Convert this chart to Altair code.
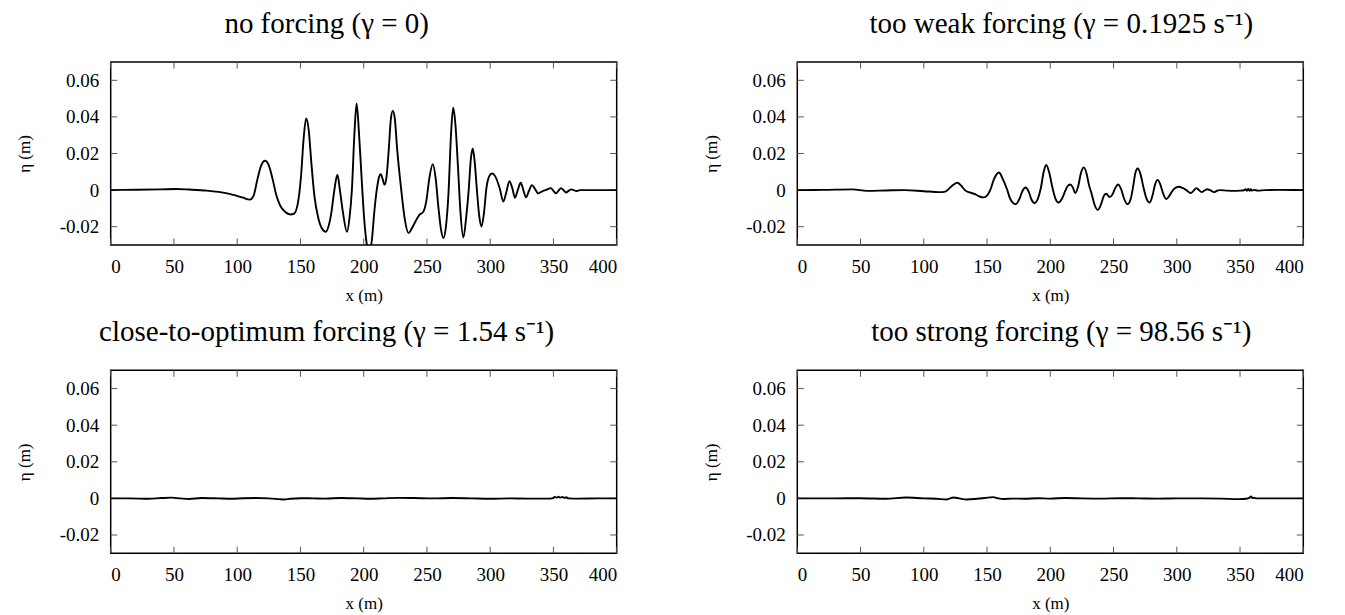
import altair as alt
import pandas as pd

x_ticks = [0, 50, 100, 150, 200, 250, 300, 350, 400]
y_ticks = [-0.02, 0.0, 0.02, 0.04, 0.06]

titles = [
    "no forcing (γ = 0)",
    "too weak forcing (γ = 0.1925 s⁻¹)",
    "close-to-optimum forcing (γ = 1.54 s⁻¹)",
    "too strong forcing (γ = 98.56 s⁻¹)",
]

# no forcing
tl_x = [0, 20, 40, 52, 62, 76, 92, 104, 110, 113, 116, 119, 122, 125, 128, 131, 134, 138, 142, 145, 148,
        150.5, 152.5, 154.5, 156.5, 158.5, 161, 164, 167, 170, 172.5, 174.5, 176.8, 179.2, 181.2, 183.6,
        186.8, 188.8, 190.7, 192.6, 194.4, 196.2, 198.1, 200.2, 202.3, 204.6, 206.5, 208.5, 210.4, 212.3,
        213.5, 215, 216.5, 218, 219.8, 221.5, 223, 224.6, 226.5, 229.7, 232.5, 235.5, 238, 241, 244, 247,
        249.5, 252, 254.6, 256.8, 259, 261, 263, 265, 267, 269, 270.7, 272.5, 274.5, 276.5, 278.8, 281,
        283, 284.7, 286.2, 287.8, 289.5, 291.3, 293.1, 295, 297, 299.2, 301.5, 304, 307.5, 310.4, 312.8,
        315.2, 317.5, 319.6, 321.8, 324.1, 326.2, 328.3, 330.6, 333, 335.5, 338, 341.5, 344.8, 348, 350,
        352, 354, 356, 358, 360, 362, 364, 366, 368, 371, 380, 400]
tl_y = [0.0, 0.0002, 0.0004, 0.0006, 0.0003, -0.0003, -0.0018, -0.0040, -0.0052, -0.0030, 0.0060, 0.0135,
        0.0160, 0.0135, 0.0060, -0.0030, -0.0085, -0.0120, -0.0133, -0.0128, -0.0070,
        0.0080, 0.0280, 0.0392, 0.0330, 0.0160, -0.0030, -0.0150, -0.0210, -0.0228, -0.0190, -0.0120,
        0.0000, 0.0084, 0.0000, -0.0122,
        -0.0228, -0.0150, 0.0005, 0.0300, 0.0473, 0.0320, 0.0096, -0.0140, -0.0290, -0.0345, -0.0270,
        -0.0110, 0.0005, 0.0075,
        0.0087, 0.0060, 0.0030, 0.0070, 0.0220, 0.0390, 0.0433, 0.0390, 0.0220, 0.0000, -0.0160, -0.0235,
        -0.0210, -0.0170, -0.0135, -0.0120,
        -0.0060, 0.0070, 0.0142, 0.0070, -0.0090, -0.0210, -0.0262, -0.0200, -0.0020, 0.0300, 0.0450,
        0.0360, 0.0130, -0.0120, -0.0259, -0.0150,
        0.0000, 0.0170, 0.0227, 0.0150, 0.0000, -0.0140, -0.0199, -0.0130, 0.0010, 0.0075, 0.0091, 0.0075,
        0.0010, -0.0062, -0.0010,
        0.0049, 0.0010, -0.0042, 0.0000, 0.0040, 0.0000, -0.0040, -0.0005, 0.0027, 0.0005, -0.0018,
        -0.0005, 0.0003, 0.0011, -0.0004,
        -0.0018, -0.0003, 0.0011, -0.0001, -0.0013, -0.0004, 0.0004, 0.0000, -0.0005, 0.0000, 0.0000, 0.0000]

# too weak forcing
tr_x = [0, 20, 44, 55, 70, 85, 100, 112.6, 117, 120, 123.5, 126.6, 129.5, 132.5, 136.3, 140.5, 144, 147.4,
        150, 152.5, 155.5, 159.4, 162.5, 165.5, 168.5, 172.6, 175.5, 178, 180.5, 183, 185, 187.6, 190,
        192.5, 194.8, 196.8, 199, 201.5, 204, 206.5, 209, 211.5, 213.5, 215.8, 217.8, 219.7, 222, 224.3,
        226.5, 228.7, 230.5, 232.4, 235, 237.6, 240, 242.5, 244.3, 246.8, 249, 251.3, 253.6, 256, 258.5,
        261, 263.5, 265.5, 267.3, 269.1, 271.2, 273.5, 276, 278.6, 280.8, 282.8, 284.9, 287, 289.3, 291.7,
        294.2, 297, 299.3, 301.7, 304.5, 307.5, 311, 313.3, 315.4, 317.5, 319.6, 322, 324.1, 326.8, 329.4,
        332, 334, 340, 345, 350, 353, 354.5, 355.5, 356.5, 357.5, 358.5, 359.5, 361, 364, 370, 380, 400]
tr_y = [0.0, 0.0001, 0.0004, -0.0004, -0.0002, 0.0000, -0.0006, -0.0011, -0.0008, 0.0008, 0.0030, 0.0040,
        0.0025, 0.0000, -0.0013, -0.0022, -0.0035, -0.0040,
        -0.0030, 0.0000, 0.0060, 0.0096, 0.0060, 0.0010, -0.0050, -0.0077, -0.0050, -0.0005, 0.0014,
        -0.0010, -0.0050, -0.0071, -0.0050,
        0.0010, 0.0100, 0.0137, 0.0100, 0.0020, -0.0045, -0.0068, -0.0050, -0.0010, 0.0020, 0.0031,
        0.0015, -0.0016, 0.0020, 0.0095,
        0.0124, 0.0090, 0.0030, -0.0013, -0.0080, -0.0108, -0.0080, -0.0030, -0.0020, -0.0038, -0.0025,
        0.0010, 0.0031, 0.0005, -0.0050,
        -0.0077, -0.0050, 0.0020, 0.0095, 0.0118, 0.0090, 0.0020, -0.0045, -0.0068, -0.0030, 0.0030,
        0.0056, 0.0030, -0.0020, -0.0049,
        -0.0030, 0.0000, 0.0014, 0.0018, 0.0012, 0.0000, -0.0016, -0.0003, 0.0011, 0.0000, -0.0011,
        -0.0002, 0.0005, -0.0002, -0.0011,
        -0.0003, 0.0000, -0.0003, -0.0004, -0.0003, -0.0001, 0.0005, -0.0004, 0.0006, -0.0004, 0.0005,
        -0.0003, 0.0001, -0.0003, 0.0000, 0.0001, 0.0000]

# close-to-optimum forcing
bl_x = [0, 15, 30, 40, 48, 55, 62, 72, 85, 95, 105, 115, 125, 133, 137, 142, 150, 160, 170, 182, 195, 205,
        215, 228, 240, 255, 270, 285, 300, 315, 330, 345, 349, 351, 352.5, 354, 355.5, 357, 358.5, 360,
        362, 370, 385, 400]
bl_y = [0.0, 0.0, -0.0002, 0.0002, 0.0004, 0.0, -0.0003, 0.0002, 0.0, -0.0002, 0.0001, 0.0002, 0.0,
        -0.0004, -0.0006, -0.0002, 0.0001, 0.0, -0.0001, 0.0002, 0.0, -0.0002, 0.0, 0.0003, 0.0002, 0.0,
        0.0002, 0.0, -0.0002, 0.0, -0.0001, -0.0001, 0.0, 0.0008, 0.0004, 0.0009, 0.0004, 0.0008, 0.0003,
        0.0006, 0.0, -0.0001, 0.0, 0.0]

# too strong forcing
br_x = [0, 30, 50, 70, 86, 100, 110, 118, 123.5, 128, 134, 142, 148, 154.7, 159, 163, 170, 180, 190, 200,
        212, 225, 240, 255, 270, 285, 300, 320, 335, 349, 355, 357.5, 358.6, 359.8, 361, 363, 375, 400]
br_y = [0.0, 0.0, 0.0001, -0.0002, 0.0005, 0.0, -0.0002, -0.0006, 0.0005, 0.0, -0.0006, -0.0002, 0.0002,
        0.0007, 0.0, -0.0003, -0.0001, -0.0002, 0.0001, -0.0001, 0.0002, 0.0, -0.0001, 0.0001, 0.0,
        -0.0001, 0.0, 0.0, -0.0001, -0.0004, -0.0002, 0.0004, 0.0011, 0.0002, 0.0004, 0.0, 0.0, 0.0]

W, H = 506, 183
FONT = "Liberation Serif"
TICK = 6.5

xsc = alt.Scale(domain=[0, 400], nice=False, zero=False)
ysc = alt.Scale(domain=[-0.03, 0.07], nice=False, zero=False)

ylabel_expr = ("datum.value < 0 ? '-' + format(-datum.value, '.2f') : "
               "(datum.value == 0 ? '0' : format(datum.value, '.2f'))")


def panel(xs, ys, title, dx):
    df = pd.DataFrame({"x": xs, "y": ys})
    xt = pd.DataFrame({"x": x_ticks})
    yt = pd.DataFrame({"y": y_ticks})
    line = alt.Chart(df).mark_line(
        color="black", strokeWidth=1.9, interpolate="monotone", clip=True
    ).encode(
        x=alt.X("x:Q", scale=xsc, axis=alt.Axis(
            values=x_ticks, ticks=False, tickSize=0, domain=False, grid=False,
            labelFont=FONT, labelFontSize=19, labelColor="black", labelPadding=12,
            title="x (m)", titleFont=FONT, titleFontSize=17, titleFontWeight="normal",
            titleColor="black", titleY=55, titleBaseline="alphabetic")),
        y=alt.Y("y:Q", scale=ysc, axis=alt.Axis(
            values=y_ticks, ticks=False, tickSize=0, domain=False, grid=False,
            labelExpr=ylabel_expr, labelFont=FONT, labelFontSize=19, labelColor="black",
            labelPadding=12, labelBaseline="middle",
            title="η (m)", titleFont=FONT, titleFontSize=17, titleFontWeight="normal",
            titleColor="black", titleX=-86, titleY=H / 2, titleAngle=270,
            titleBaseline="middle", titleAlign="center")),
    )
    tick_style = dict(color="#555555", strokeWidth=1)
    xb = alt.Chart(xt).mark_rule(**tick_style).encode(
        x=alt.X("x:Q", scale=xsc), y=alt.value(H), y2=alt.value(H - TICK))
    xtp = alt.Chart(xt).mark_rule(**tick_style).encode(
        x=alt.X("x:Q", scale=xsc), y=alt.value(0), y2=alt.value(TICK))
    yl = alt.Chart(yt).mark_rule(**tick_style).encode(
        y=alt.Y("y:Q", scale=ysc), x=alt.value(0), x2=alt.value(TICK))
    yr = alt.Chart(yt).mark_rule(**tick_style).encode(
        y=alt.Y("y:Q", scale=ysc), x=alt.value(W), x2=alt.value(W - TICK))
    return alt.layer(xb, xtp, yl, yr, line).properties(
        width=W, height=H,
        title=alt.TitleParams(text=title, font=FONT, fontSize=29, fontWeight="normal",
                              color="black", anchor="middle", offset=0, dx=dx,
                              baseline="alphabetic"),
    )


p1 = panel(tl_x, tl_y, titles[0], -37)
p2 = panel(tr_x, tr_y, titles[1], 11)
p3 = panel(bl_x, bl_y, titles[2], -37)
p4 = panel(br_x, br_y, titles[3], 11)

chart = alt.concat(
    p1, p2, p3, p4, columns=2, bounds="flush",
    spacing=alt.RowColnumber(row=125.3, column=180.6),
).properties(
    padding={"left": 6.7, "top": 0, "right": 5, "bottom": 5},
    background="white",
).configure_view(stroke="black", strokeWidth=1.5)

chart.save("out.html", embed_options={"renderer": "svg", "actions": False})
